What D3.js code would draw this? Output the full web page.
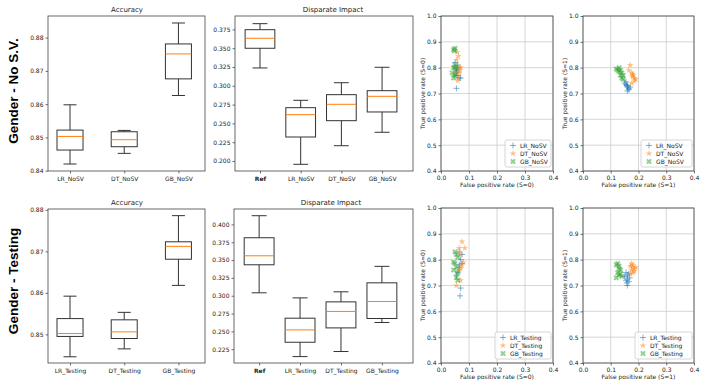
<!DOCTYPE html>
<html>
<head>
<meta charset="utf-8">
<style>
    body { margin: 0; background: #fff; }
    svg { font-family: "DejaVu Sans", sans-serif; }
</style>
</head>
<body>
<svg width="706" height="388"></svg>
<script src="https://d3js.org/d3.v7.min.js"></script>
<script>

    // box stats: [low whisker, q1, median, q3, high whisker]
    var accNoSVLabels = ["LR_NoSV", "DT_NoSV", "GB_NoSV"];
    var accNoSVStats = [
        [0.8420, 0.8462, 0.8503, 0.8522, 0.8598],
        [0.8452, 0.8472, 0.8493, 0.8517, 0.8521],
        [0.8626, 0.8676, 0.8751, 0.8781, 0.8844]];
    var diNoSVLabels = ["Ref", "LR_NoSV", "DT_NoSV", "GB_NoSV"];
    var diNoSVStats = [
        [0.3237, 0.3499, 0.3632, 0.3746, 0.3826],
        [0.1956, 0.2319, 0.2616, 0.2709, 0.2807],
        [0.2203, 0.2536, 0.2754, 0.2882, 0.3041],
        [0.2382, 0.2652, 0.2860, 0.2935, 0.3246]];
    var accTestLabels = ["LR_Testing", "DT_Testing", "GB_Testing"];
    var accTestStats = [
        [0.8446, 0.8495, 0.8502, 0.8538, 0.8592],
        [0.8465, 0.8490, 0.8506, 0.8535, 0.8553],
        [0.8618, 0.8681, 0.8712, 0.8723, 0.8786]];
    var diTestLabels = ["Ref", "LR_Testing", "DT_Testing", "GB_Testing"];
    var diTestStats = [
        [0.3041, 0.3434, 0.3560, 0.3813, 0.4122],
        [0.2147, 0.2348, 0.2521, 0.2685, 0.2970],
        [0.2218, 0.2549, 0.2780, 0.2914, 0.3055],
        [0.2625, 0.2681, 0.2919, 0.3181, 0.3412]];

    var accNoSVTicks = [0.84, 0.85, 0.86, 0.87, 0.88];
    var diNoSVTicks = [0.200, 0.225, 0.250, 0.275, 0.300, 0.325, 0.350, 0.375];
    var accTestTicks = [0.85, 0.86, 0.87, 0.88];
    var diTestTicks = [0.225, 0.250, 0.275, 0.300, 0.325, 0.350, 0.375, 0.400];
    var rateXTicks = [0.0, 0.1, 0.2, 0.3, 0.4];
    var rateYTicks = [0.4, 0.5, 0.6, 0.7, 0.8, 0.9, 1.0];

    // scatter points: [false positive rate, true positive rate]
    var lrNoSV_S0 = [[0.055,0.72],[0.065,0.76],[0.060,0.77],[0.055,0.79],[0.050,0.82],[0.060,0.80],[0.070,0.76],[0.055,0.78],[0.060,0.81],[0.050,0.77]];
    var dtNoSV_S0 = [[0.058,0.86],[0.062,0.845],[0.065,0.80],[0.070,0.80],[0.066,0.78],[0.060,0.75],[0.052,0.78],[0.056,0.83],[0.068,0.79],[0.062,0.76]];
    var gbNoSV_S0 = [[0.045,0.87],[0.050,0.875],[0.048,0.865],[0.050,0.81],[0.045,0.80],[0.040,0.78],[0.050,0.77],[0.055,0.79],[0.045,0.76],[0.050,0.80]];

    var lrNoSV_S1 = [[0.150,0.74],[0.155,0.735],[0.160,0.73],[0.165,0.72],[0.160,0.71],[0.170,0.725],[0.155,0.745],[0.165,0.715],[0.160,0.725],[0.158,0.73]];
    var dtNoSV_S1 = [[0.170,0.81],[0.165,0.79],[0.175,0.78],[0.180,0.775],[0.185,0.76],[0.180,0.77],[0.190,0.755],[0.175,0.74],[0.185,0.75],[0.178,0.765]];
    var gbNoSV_S1 = [[0.120,0.795],[0.130,0.80],[0.135,0.79],[0.140,0.78],[0.135,0.77],[0.140,0.76],[0.145,0.755],[0.130,0.785],[0.125,0.79],[0.145,0.77]];

    var lrTest_S0 = [[0.065,0.83],[0.075,0.82],[0.070,0.80],[0.075,0.785],[0.065,0.77],[0.060,0.75],[0.055,0.74],[0.070,0.69],[0.068,0.66],[0.065,0.78]];
    var dtTest_S0 = [[0.075,0.87],[0.065,0.845],[0.085,0.845],[0.070,0.82],[0.075,0.78],[0.070,0.765],[0.065,0.76],[0.070,0.72],[0.055,0.70],[0.080,0.79]];
    var gbTest_S0 = [[0.050,0.83],[0.055,0.82],[0.060,0.81],[0.045,0.79],[0.050,0.785],[0.055,0.77],[0.045,0.76],[0.060,0.75],[0.055,0.73],[0.060,0.72]];

    var lrTest_S1 = [[0.155,0.75],[0.160,0.74],[0.165,0.745],[0.160,0.725],[0.155,0.72],[0.165,0.715],[0.160,0.70],[0.150,0.735],[0.158,0.71],[0.168,0.73]];
    var dtTest_S1 = [[0.175,0.785],[0.170,0.775],[0.180,0.78],[0.185,0.765],[0.175,0.76],[0.190,0.77],[0.180,0.75],[0.170,0.745],[0.185,0.755],[0.178,0.77]];
    var gbTest_S1 = [[0.120,0.78],[0.125,0.785],[0.130,0.775],[0.135,0.76],[0.125,0.75],[0.130,0.74],[0.140,0.735],[0.120,0.73],[0.135,0.745],[0.130,0.765]];

    var svg = d3.select("svg");
    var blue = "#1f77b4", orange = "#ff7f0e", green = "#2ca02c";

    function styleAxis(a) {
        a.select(".domain").remove();
        a.attr("font-family", null).attr("font-size", 6);
        a.selectAll("line").attr("stroke", "#333").attr("stroke-width", 0.7);
        a.selectAll("text").attr("fill", "#222");
    }

    function boxPanel(p) {
        var x = d3.scaleLinear().domain(p.xDomain).range([p.left, p.right]);
        var y = d3.scaleLinear().domain(p.yDomain).range([p.bottom, p.top]);
        var g = svg.append("g");

        g.append("g").attr("transform", "translate(" + p.left + ",0)")
            .call(d3.axisLeft(y).tickValues(p.ticks).tickFormat(d3.format(p.fmt)).tickSize(2.5).tickPadding(2))
            .call(styleAxis);

        var xa = g.append("g").attr("transform", "translate(0," + p.bottom + ")")
            .call(d3.axisBottom(x).tickValues(d3.range(1, p.labels.length + 1))
                .tickFormat(function(d, i) { return p.labels[i]; }).tickSize(2.5).tickPadding(3))
            .call(styleAxis);
        if (p.labels[0] === "Ref") {
            xa.selectAll("text").filter(function(d) { return d === 1; }).attr("font-weight", "bold");
        }

        g.append("rect")
            .attr("x", p.left).attr("y", p.top)
            .attr("width", p.right - p.left).attr("height", p.bottom - p.top)
            .attr("fill", "none").attr("stroke", "#444").attr("stroke-width", 0.8);

        var hw = (x(p.boxWidth) - x(0)) / 2;
        var box = g.selectAll("g.box").data(p.stats).enter().append("g").attr("class", "box");
        box.each(function(s, i) {
            var b = d3.select(this), cx = x(i + 1);
            b.append("line").attr("x1", cx).attr("x2", cx).attr("y1", y(s[0])).attr("y2", y(s[1]));
            b.append("line").attr("x1", cx).attr("x2", cx).attr("y1", y(s[3])).attr("y2", y(s[4]));
            b.append("line").attr("x1", cx - hw / 2).attr("x2", cx + hw / 2).attr("y1", y(s[0])).attr("y2", y(s[0]));
            b.append("line").attr("x1", cx - hw / 2).attr("x2", cx + hw / 2).attr("y1", y(s[4])).attr("y2", y(s[4]));
            b.selectAll("line").attr("stroke", "#333").attr("stroke-width", 1);
            b.append("rect").attr("x", cx - hw).attr("y", y(s[3]))
                .attr("width", 2 * hw).attr("height", y(s[1]) - y(s[3]))
                .attr("fill", "none").attr("stroke", "#333").attr("stroke-width", 1);
            b.append("line").attr("x1", cx - hw).attr("x2", cx + hw).attr("y1", y(s[2])).attr("y2", y(s[2]))
                .attr("stroke", orange).attr("stroke-width", 1);
        });

        g.append("text").attr("x", p.titleX).attr("y", p.top - 4)
            .attr("text-anchor", "middle").attr("font-size", 7).attr("fill", "#222")
            .text(p.title);
    }

    function marker(sel, kind) {
        if (kind === 0) {
            sel.append("path").attr("d", "M-3,0H3M0,-3V3")
                .attr("stroke", blue).attr("stroke-width", 1).attr("fill", "none").attr("opacity", 0.55);
        } else if (kind === 1) {
            sel.append("path").attr("d", d3.symbol(d3.symbolStar, 14)())
                .attr("fill", orange).attr("opacity", 0.5);
        } else {
            sel.append("path").attr("d", d3.symbol(d3.symbolCross, 20)())
                .attr("transform", "rotate(45)")
                .attr("fill", green).attr("opacity", 0.5);
        }
    }

    function scatterPanel(p) {
        var x = d3.scaleLinear().domain([0, 0.4]).range([p.left, p.right]);
        var y = d3.scaleLinear().domain([0.4, 1.0]).range([p.bottom, p.top]);
        var g = svg.append("g");

        g.append("g").selectAll("line").data(rateXTicks).enter().append("line")
            .attr("x1", x).attr("x2", x).attr("y1", p.top).attr("y2", p.bottom)
            .attr("stroke", "#ccc").attr("stroke-width", 0.8);
        g.append("g").selectAll("line").data(rateYTicks).enter().append("line")
            .attr("y1", y).attr("y2", y).attr("x1", p.left).attr("x2", p.right)
            .attr("stroke", "#ccc").attr("stroke-width", 0.8);

        g.append("g").attr("transform", "translate(" + p.left + ",0)")
            .call(d3.axisLeft(y).tickValues(rateYTicks).tickFormat(d3.format(".1f")).tickSize(2.5).tickPadding(2))
            .call(styleAxis);
        g.append("g").attr("transform", "translate(0," + p.bottom + ")")
            .call(d3.axisBottom(x).tickValues(rateXTicks).tickFormat(d3.format(".1f")).tickSize(2.5).tickPadding(2))
            .call(styleAxis);

        g.append("rect")
            .attr("x", p.left).attr("y", p.top)
            .attr("width", p.right - p.left).attr("height", p.bottom - p.top)
            .attr("fill", "none").attr("stroke", "#444").attr("stroke-width", 0.8);

        p.series.forEach(function(pts, k) {
            g.append("g").selectAll("g").data(pts).enter().append("g")
                .attr("transform", function(d) { return "translate(" + x(d[0]) + "," + y(d[1]) + ")"; })
                .each(function() { marker(d3.select(this), k); });
        });

        g.append("text").attr("x", (p.left + p.right) / 2).attr("y", p.bottom + 16)
            .attr("text-anchor", "middle").attr("font-size", 6).attr("fill", "#222")
            .text(p.xLabel);
        g.append("text").attr("transform", "translate(" + (p.left - 16) + "," + ((p.top + p.bottom) / 2) + ") rotate(-90)")
            .attr("text-anchor", "middle").attr("font-size", 6).attr("fill", "#222")
            .text(p.yLabel);

        // legend
        var lw = p.legendWidth, lh = 27;
        var lx = p.right - 2 - lw, ly = p.bottom - 4 - lh;
        var lg = g.append("g").attr("transform", "translate(" + lx + "," + ly + ")");
        lg.append("rect").attr("width", lw).attr("height", lh).attr("rx", 2)
            .attr("fill", "#fff").attr("fill-opacity", 0.8).attr("stroke", "#ccc").attr("stroke-width", 0.8);
        p.names.forEach(function(name, k) {
            var row = lg.append("g").attr("transform", "translate(0," + (5.5 + k * 8) + ")");
            marker(row.append("g").attr("transform", "translate(8,0)"), k);
            row.append("text").attr("x", 15).attr("y", 2.2).attr("font-size", 6).attr("fill", "#222").text(name);
        });
    }

    // top row
    boxPanel({left: 48, right: 205, top: 16, bottom: 171, xDomain: [0.594, 3.49], yDomain: [0.8399, 0.8865],
        boxWidth: 0.48, ticks: accNoSVTicks, fmt: ".2f", labels: accNoSVLabels, stats: accNoSVStats,
        title: "Accuracy", titleX: 127});
    boxPanel({left: 235, right: 413, top: 16, bottom: 171, xDomain: [0.386, 4.76], yDomain: [0.1867, 0.3928],
        boxWidth: 0.73, ticks: diNoSVTicks, fmt: ".3f", labels: diNoSVLabels, stats: diNoSVStats,
        title: "Disparate Impact", titleX: 333});
    scatterPanel({left: 441, right: 553, top: 16, bottom: 171, series: [lrNoSV_S0, dtNoSV_S0, gbNoSV_S0],
        names: ["LR_NoSV", "DT_NoSV", "GB_NoSV"], legendWidth: 46,
        xLabel: "False positive rate (S=0)", yLabel: "True positive rate (S=0)"});
    scatterPanel({left: 583, right: 694, top: 16, bottom: 171, series: [lrNoSV_S1, dtNoSV_S1, gbNoSV_S1],
        names: ["LR_NoSV", "DT_NoSV", "GB_NoSV"], legendWidth: 51,
        xLabel: "False positive rate (S=1)", yLabel: "True positive rate (S=1)"});

    // bottom row
    boxPanel({left: 48, right: 205, top: 209, bottom: 363, xDomain: [0.594, 3.49], yDomain: [0.8431, 0.8802],
        boxWidth: 0.48, ticks: accTestTicks, fmt: ".2f", labels: accTestLabels, stats: accTestStats,
        title: "Accuracy", titleX: 127});
    boxPanel({left: 234, right: 413, top: 209, bottom: 363, xDomain: [0.386, 4.76], yDomain: [0.2057, 0.4216],
        boxWidth: 0.73, ticks: diTestTicks, fmt: ".3f", labels: diTestLabels, stats: diTestStats,
        title: "Disparate Impact", titleX: 331});
    scatterPanel({left: 441, right: 553, top: 208, bottom: 363, series: [lrTest_S0, dtTest_S0, gbTest_S0],
        names: ["LR_Testing", "DT_Testing", "GB_Testing"], legendWidth: 56,
        xLabel: "False positive rate (S=0)", yLabel: "True positive rate (S=0)"});
    scatterPanel({left: 583, right: 694, top: 208, bottom: 363, series: [lrTest_S1, dtTest_S1, gbTest_S1],
        names: ["LR_Testing", "DT_Testing", "GB_Testing"], legendWidth: 57,
        xLabel: "False positive rate (S=1)", yLabel: "True positive rate (S=1)"});

    // row labels
    svg.append("text").attr("transform", "translate(18,91) rotate(-90)")
        .attr("text-anchor", "middle").attr("font-family", "Liberation Sans, Arial, sans-serif")
        .attr("font-weight", "bold").attr("font-size", 13.5).text("Gender - No S.V.");
    svg.append("text").attr("transform", "translate(18,281) rotate(-90)")
        .attr("text-anchor", "middle").attr("font-family", "Liberation Sans, Arial, sans-serif")
        .attr("font-weight", "bold").attr("font-size", 13.5).text("Gender - Testing");

</script>
</body>
</html>
